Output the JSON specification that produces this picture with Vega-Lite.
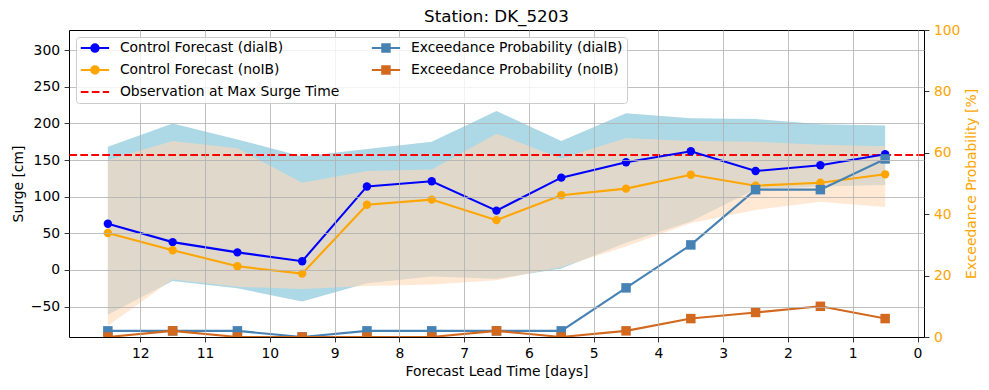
{
  "$schema": "https://vega.github.io/schema/vega-lite/v6.json",
  "width": 855,
  "height": 307,
  "autosize": {"type": "none"},
  "padding": {"left": 69, "top": 30, "right": 65, "bottom": 53},
  "title": {"text": "Station: DK_5203", "fontSize": 16.7, "fontWeight": "normal", "color": "black", "offset": -3, "anchor": "middle", "frame": "group"},
  "config": {
    "font": "DejaVu Sans",
    "view": {"stroke": "black", "strokeWidth": 1},
    "axis": {
      "labelFontSize": 13.9, "titleFontSize": 13.9, "labelColor": "black", "titleColor": "black",
      "tickColor": "black", "tickSize": 4.9, "tickWidth": 0.8, "domain": false,
      "gridColor": "#b0b0b0", "gridWidth": 0.8, "titleFontWeight": "normal", "labelPadding": 4.5
    }
  },
  "datasets": {
    "fc": [
      {"lead": 12.5, "cf_dial": 63, "cf_noib": 50.5, "lo_dial": -61, "hi_dial": 168, "lo_noib": -76, "hi_noib": 150, "ep_dial": 2, "ep_noib": 0},
      {"lead": 11.5, "cf_dial": 38, "cf_noib": 27, "lo_dial": -15, "hi_dial": 200, "lo_noib": -13, "hi_noib": 176, "ep_dial": 2, "ep_noib": 2},
      {"lead": 10.5, "cf_dial": 24, "cf_noib": 5, "lo_dial": -25, "hi_dial": 178, "lo_noib": -23, "hi_noib": 166, "ep_dial": 2, "ep_noib": 0},
      {"lead": 9.5, "cf_dial": 12, "cf_noib": -5, "lo_dial": -43, "hi_dial": 155, "lo_noib": -26, "hi_noib": 119, "ep_dial": 0, "ep_noib": 0},
      {"lead": 8.5, "cf_dial": 114, "cf_noib": 89, "lo_dial": -18, "hi_dial": 165, "lo_noib": -22, "hi_noib": 135, "ep_dial": 2, "ep_noib": 0},
      {"lead": 7.5, "cf_dial": 121, "cf_noib": 96, "lo_dial": -9, "hi_dial": 175, "lo_noib": -20, "hi_noib": 137, "ep_dial": 2, "ep_noib": 0},
      {"lead": 6.5, "cf_dial": 81, "cf_noib": 68, "lo_dial": -12, "hi_dial": 217, "lo_noib": -14, "hi_noib": 186, "ep_dial": 2, "ep_noib": 2},
      {"lead": 5.5, "cf_dial": 126, "cf_noib": 102, "lo_dial": 2, "hi_dial": 176, "lo_noib": 4, "hi_noib": 152, "ep_dial": 2, "ep_noib": 0},
      {"lead": 4.5, "cf_dial": 147, "cf_noib": 111, "lo_dial": 37, "hi_dial": 214, "lo_noib": 32, "hi_noib": 180, "ep_dial": 16, "ep_noib": 2},
      {"lead": 3.5, "cf_dial": 162, "cf_noib": 130, "lo_dial": 66, "hi_dial": 207, "lo_noib": 64, "hi_noib": 176, "ep_dial": 30, "ep_noib": 6},
      {"lead": 2.5, "cf_dial": 135, "cf_noib": 115, "lo_dial": 110, "hi_dial": 206, "lo_noib": 82, "hi_noib": 175, "ep_dial": 48, "ep_noib": 8},
      {"lead": 1.5, "cf_dial": 143, "cf_noib": 119, "lo_dial": 114, "hi_dial": 199, "lo_noib": 93, "hi_noib": 171, "ep_dial": 48, "ep_noib": 10},
      {"lead": 0.5, "cf_dial": 158, "cf_noib": 130.5, "lo_dial": 116, "hi_dial": 197, "lo_noib": 86, "hi_noib": 169, "ep_dial": 58, "ep_noib": 6}
    ],
    "obs": [{"obs": 157}],
    "legend": [
      {"series": "Control Forecast (dialB)"},
      {"series": "Control Forecast (noIB)"},
      {"series": "Observation at Max Surge Time"},
      {"series": "Exceedance Probability (dialB)"},
      {"series": "Exceedance Probability (noIB)"}
    ]
  },
  "resolve": {"scale": {"y": "independent"}},
  "layer": [
    {
      "layer": [
        {
          "data": {"name": "fc"},
          "mark": {"type": "area", "color": "#ADD8E6"},
          "encoding": {
            "x": {"field": "lead", "type": "quantitative", "scale": {"domain": [-0.1, 13.1], "reverse": true, "nice": false, "zero": false},
                  "axis": {"values": [0,1,2,3,4,5,6,7,8,9,10,11,12], "format": "d", "title": "Forecast Lead Time [days]", "grid": true, "zindex": 1, "titlePadding": 4}},
            "y": {"field": "lo_dial", "type": "quantitative", "scale": {"domain": [-91.5, 327.5], "nice": false, "zero": false},
                  "axis": {"values": [-50,0,50,100,150,200,250,300], "title": "Surge [cm]", "grid": true, "zindex": 1, "titlePadding": 5}},
            "y2": {"field": "hi_dial"}
          }
        },
        {
          "data": {"name": "fc"},
          "mark": {"type": "area", "color": "#FFDAB9", "opacity": 0.62},
          "encoding": {
            "x": {"field": "lead", "type": "quantitative"},
            "y": {"field": "lo_noib", "type": "quantitative"},
            "y2": {"field": "hi_noib"}
          }
        },
        {
          "data": {"name": "obs"},
          "mark": {"type": "rule", "color": "#FF0000", "strokeWidth": 2.08, "strokeDash": [7.7, 3.3]},
          "encoding": {
            "y": {"field": "obs", "type": "quantitative"}
          }
        },
        {
          "data": {"name": "fc"},
          "mark": {"type": "line", "color": "#0000FF", "strokeWidth": 2.08, "point": {"filled": true, "size": 71, "color": "#0000FF", "opacity": 1}},
          "encoding": {
            "x": {"field": "lead", "type": "quantitative"},
            "y": {"field": "cf_dial", "type": "quantitative"}
          }
        },
        {
          "data": {"name": "fc"},
          "mark": {"type": "line", "color": "#FFA500", "strokeWidth": 2.08, "point": {"filled": true, "size": 71, "color": "#FFA500", "opacity": 1}},
          "encoding": {
            "x": {"field": "lead", "type": "quantitative"},
            "y": {"field": "cf_noib", "type": "quantitative"}
          }
        }
      ]
    },
    {
      "layer": [
        {
          "data": {"name": "fc"},
          "mark": {"type": "line", "color": "#4682B4", "strokeWidth": 2.08, "clip": true},
          "encoding": {
            "x": {"field": "lead", "type": "quantitative"},
            "y": {"field": "ep_dial", "type": "quantitative", "scale": {"domain": [0, 100], "nice": false},
                  "axis": {"orient": "right", "values": [0,20,40,60,80,100], "title": "Exceedance Probability [%]", "grid": false,
                           "labelColor": "#FFA500", "titleColor": "#FFA500", "titleAngle": 270, "titleBaseline": "top", "titlePadding": 5}}
          }
        },
        {
          "data": {"name": "fc"},
          "mark": {"type": "point", "shape": "square", "filled": true, "size": 90, "color": "#4682B4", "opacity": 1, "clip": true},
          "encoding": {
            "x": {"field": "lead", "type": "quantitative"},
            "y": {"field": "ep_dial", "type": "quantitative"}
          }
        },
        {
          "data": {"name": "fc"},
          "mark": {"type": "line", "color": "#D2691E", "strokeWidth": 2.08, "clip": true},
          "encoding": {
            "x": {"field": "lead", "type": "quantitative"},
            "y": {"field": "ep_noib", "type": "quantitative"}
          }
        },
        {
          "data": {"name": "fc"},
          "mark": {"type": "point", "shape": "square", "filled": true, "size": 90, "color": "#D2691E", "opacity": 1, "clip": true},
          "encoding": {
            "x": {"field": "lead", "type": "quantitative"},
            "y": {"field": "ep_noib", "type": "quantitative"}
          }
        }
      ]
    },
    {
      "data": {"name": "legend"},
      "transform": [{"filter": "datum.series == 'none'"}],
      "mark": {"type": "point", "filled": false, "strokeWidth": 2.08, "opacity": 1},
      "encoding": {
        "color": {
          "field": "series", "type": "nominal",
          "scale": {
            "domain": ["Control Forecast (dialB)", "Control Forecast (noIB)", "Observation at Max Surge Time", "Exceedance Probability (dialB)", "Exceedance Probability (noIB)"],
            "range": ["#0000FF", "#FFA500", "#FF0000", "#4682B4", "#D2691E"]
          },
          "legend": {
            "title": null, "orient": "top-left", "offset": 7, "columns": 2, "columnPadding": 27, "rowPadding": 6,
            "padding": 4, "fillColor": "rgba(255,255,255,0.8)", "strokeColor": "#cccccc", "cornerRadius": 3,
            "labelFontSize": 13.9, "labelColor": "black", "symbolSize": 100, "symbolStrokeWidth": 2.08,
            "symbolOffset": 8, "labelOffset": 18, "zindex": 2, "labelLimit": 400
          }
        },
        "shape": {
          "field": "series", "type": "nominal",
          "scale": {
            "domain": ["Control Forecast (dialB)", "Control Forecast (noIB)", "Observation at Max Surge Time", "Exceedance Probability (dialB)", "Exceedance Probability (noIB)"],
            "range": [
              "M-2.83,0H2.83M-0.2,0A0.2,0.2,0,1,0,0.2,0A0.2,0.2,0,1,0,-0.2,0M-0.5,0A0.5,0.5,0,1,0,0.5,0A0.5,0.5,0,1,0,-0.5,0M-0.74,0A0.74,0.74,0,1,0,0.74,0A0.74,0.74,0,1,0,-0.74,0",
              "M-2.83,0H2.83M-0.2,0A0.2,0.2,0,1,0,0.2,0A0.2,0.2,0,1,0,-0.2,0M-0.5,0A0.5,0.5,0,1,0,0.5,0A0.5,0.5,0,1,0,-0.5,0M-0.74,0A0.74,0.74,0,1,0,0.74,0A0.74,0.74,0,1,0,-0.74,0",
              "M-2.83,0H-1.29M-0.63,0H0.91M1.57,0H2.83",
              "M-2.83,0H2.83M-0.2,-0.2H0.2V0.2H-0.2ZM-0.5,-0.5H0.5V0.5H-0.5ZM-0.74,-0.74H0.74V0.74H-0.74Z",
              "M-2.83,0H2.83M-0.2,-0.2H0.2V0.2H-0.2ZM-0.5,-0.5H0.5V0.5H-0.5ZM-0.74,-0.74H0.74V0.74H-0.74Z"
            ]
          },
          "legend": {
            "title": null, "orient": "top-left", "offset": 7, "columns": 2, "columnPadding": 27, "rowPadding": 6,
            "padding": 4, "fillColor": "rgba(255,255,255,0.8)", "strokeColor": "#cccccc", "cornerRadius": 3,
            "labelFontSize": 13.9, "labelColor": "black", "symbolSize": 100, "symbolStrokeWidth": 2.08,
            "symbolOffset": 8, "labelOffset": 18, "zindex": 2, "labelLimit": 400
          }
        }
      }
    }
  ]
}
